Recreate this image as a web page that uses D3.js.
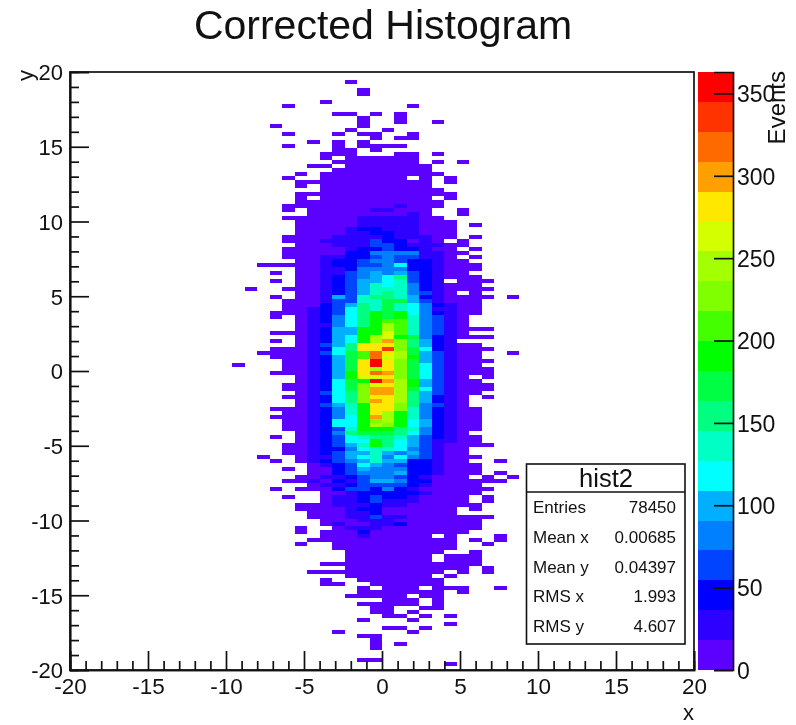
<!DOCTYPE html>
<html>
<head>
<meta charset="utf-8">
<style>
  html, body { margin: 0; padding: 0; background: #fff; }
  svg { filter: blur(0.45px); }
  text { font-family: "Liberation Sans", sans-serif; fill: #111; }
</style>
<script src="https://cdn.jsdelivr.net/npm/d3@7"></script>
</head>
<body>
<div class="container"></div>
<script>
const w = 796;
const h = 725;
let svg = null;

const xBins = 50;
const yBins = 150;
const maxCount = 363;

const xMajor = [-20, -15, -10, -5, 0, 5, 10, 15, 20];
const yMajor = [-20, -15, -10, -5, 0, 5, 10, 15, 20];
const zMajor = [0, 50, 100, 150, 200, 250, 300, 350];

const palette = [
  '#5c00ff', '#2e00ff', '#0000ff', '#0044ff', '#0080ff',
  '#00b0ff', '#00ffff', '#00ffc4', '#00ff80', '#00ff44',
  '#00ff00', '#44ff00', '#80ff00', '#a4ff00', '#d4ff00',
  '#ffe800', '#ffa000', '#ff6a00', '#ff3300', '#ff0000',
];

const statNames = ['Entries', 'Mean x', 'Mean y', 'RMS x', 'RMS y'];
const statValues = ['78450', '0.00685', '0.04397', '1.993', '4.607'];

// each entry: y bin counted from the top, first x bin, then one base-20 colour
// band per x bin ('.' = empty bin)
const topRows = [
  [2, 22, '0'], [4, 23, '0'], [5, 23, '0'], [7, 20, '0'], [8, 17, '0.........0'],
  [10, 21, '00.0.0'], [11, 23, '0..0'], [12, 23, '0..0..0'], [13, 16, '0......0'],
  [14, 22, '0..0'], [15, 17, '0...0.00..0'], [16, 24, '0.00'], [17, 19, '0.0.0'],
  [18, 17, '0...0.0000'], [19, 21, '00.0'], [20, 20, '000...00.0'],
  [21, 20, '0.000000'], [22, 21, '0000000.0.0'], [23, 19, '00.0000000'],
  [24, 21, '00000000'], [25, 18, '0.0000000000'], [26, 17, '0..0000000.0.0'],
  [27, 18, '00000000000.0'], [28, 18, '0.000000000'], [29, 20, '0000000000'],
  [30, 18, '0000000000000'], [31, 18, '0.000000000.0'], [32, 18, '000000000000'],
  [33, 17, '0000000001000'], [34, 17, '0.0000011000..0'], [35, 19, '0000000010..0'],
  [36, 17, '0000001111100'],
];

const upperRows = [
  [37, 18, '0000011111000'], [38, 18, '0000011111000.0'], [39, 18, '0000122111000'],
  [40, 18, '0000112211000'], [41, 17, '00001111211100.0'], [42, 17, '0001111322010.0'],
  [43, 18, '00011133211100'], [44, 17, '00000122322100.0'], [45, 17, '000002244441100'],
  [46, 17, '00011223433110.0'], [47, 18, '00122344322100'], [48, 15, '000001223346221000'],
  [49, 18, '001124444221000'], [50, 16, '0.00113454532100'], [51, 18, '001234568321000'],
  [52, 16, '0.001235567321.000'], [53, 18, '001235767421000'], [54, 14, '0..00012357774210000'],
  [55, 18, '0012357874310.0'], [56, 16, '0.0015378875210000.0'], [57, 17, '0001337799531000'],
];

const coreRows = [
  [58, 17, '0002358797642100'], [59, 17, '0012368797641100'], [60, 16, '00012368a9a642100'],
  [61, 16, '0.012468a9a74310'], [62, 18, '012468abb74310'], [63, 18, '011468adb74310'],
  [64, 18, '01255aadb7431000'], [65, 16, '0001255aaeb74310'], [66, 18, '01256adea9421000'],
  [67, 16, '0.01256adgc8521'], [68, 18, '01358fffc852100'], [69, 16, '0001268ffic9621000'],
  [70, 15, '00001369bhfd953100..0'], [71, 16, '0001259bheda53100'], [72, 17, '001259fjfc9531000'],
  [73, 13, '0...001259fjfc963100'], [74, 17, '001259fdfc9631000'], [75, 16, '000125afhgc9631000'],
  [76, 18, '0125aeefc96310.0'], [77, 18, '01269ajgda53100'], [78, 17, '001269cefda531000'],
  [79, 17, '001269cggd9631000'], [80, 18, '01368cggd853100'], [81, 17, '001268cffd85210.0'],
  [82, 18, '01268cgfd85210'], [83, 18, '01357affc84310'], [84, 16, '0001247affc742100'],
  [85, 17, '001247afda742100'], [86, 16, '0001246agda742100'], [87, 17, '001266acda652100'],
  [88, 17, '001266adca652100'], [89, 17, '001237aaa8742100'],
];

const lowerRows = [
  [90, 18, '01248999864210'], [91, 16, '0.012367887532100'], [92, 18, '012366a86531100'],
  [93, 17, '0012357a865310000'], [94, 17, '001224677643100'], [95, 17, '001235575453100'],
  [96, 15, '0..011356746431000'], [97, 16, '0.01234575522100..0'], [98, 19, '01236543221000'],
  [99, 17, '0.00235444221000'], [100, 19, '00234445221000.0'], [101, 18, '00112344321000.0.0'],
  [102, 17, '001021355422000000'], [103, 19, '01123333210000'], [104, 16, '0.0002332421000000'],
  [105, 20, '0012222210000'], [106, 17, '0..011232210000.0'], [107, 20, '011231110000.0'],
  [108, 18, '000111211000000'], [109, 18, '0000122000000.0'], [110, 19, '000112000000'],
  [111, 19, '000113110000000'], [112, 20, '0001110000000'], [113, 20, '0100112000000'],
];

const bottomRows = [
  [114, 18, '0..011100000000'], [115, 18, '0.000200000000'], [116, 20, '000100000.0...0'],
  [117, 19, '000000000000.0.0'], [118, 18, '0..0000000000..0'], [119, 21, '0000000000'],
  [120, 22, '00000000..0'], [121, 22, '0000000.000'], [122, 22, '0000000.000'],
  [123, 20, '0000000000000'], [124, 22, '0000000000.0'], [125, 19, '00000000000.0.0'],
  [126, 22, '0000000.0'], [127, 20, '0..0000000'], [128, 20, '00..000000'],
  [129, 23, '0.000.000..0'], [130, 23, '0000000.0'], [131, 22, '00000.00'],
  [132, 25, '000.0'], [133, 23, '00000.0'], [134, 24, '00..00'], [135, 24, '00.0'],
  [136, 25, '00.0.0'], [137, 23, '0...0'], [138, 30, '0'], [139, 25, '00.0'],
  [140, 21, '0.....0'], [141, 23, '00'], [142, 24, '0'], [143, 24, '0.0'],
  [144, 24, '0'], [147, 23, '00'], [148, 30, '0'],
];

const cellRows = topRows.concat(upperRows, coreRows, lowerRows, bottomRows);

const xPos = d3.scaleLinear().domain([-20, 20]).range([70, 694]);
const yPos = d3.scaleLinear().domain([-20, 20]).range([670, 72]);
const zPos = d3.scaleLinear().domain([0, maxCount]).range([670, 72]);
const xBand = d3.scaleBand().domain(d3.range(xBins)).range([70, 694]);
const yBand = d3.scaleBand().domain(d3.range(yBins)).range([72, 670]);
const bandColor = d3.scaleOrdinal().domain(d3.range(palette.length)).range(palette);

window.onload = () => {
  setSvg();
  drawCells();
  drawColorBar();
  drawFrame();
  drawAxes();
  drawStats();
  drawTitles();
};

function setSvg() {
  svg = d3.select('.container').append('svg')
    .attr('width', w)
    .attr('height', h)
    .style('display', 'block');
}

function expandRows() {
  const cells = [];
  cellRows.forEach(([row, col, bands]) => {
    bands.split('').forEach((ch, i) => {
      if (ch !== '.') cells.push({ row, col: col + i, band: parseInt(ch, 20) });
    });
  });
  return cells;
}

function drawCells() {
  svg.append('g').selectAll('rect').data(expandRows()).enter().append('rect')
    .attr('x', (d) => xBand(d.col))
    .attr('y', (d) => yBand(d.row))
    .attr('width', xBand.bandwidth())
    .attr('height', yBand.bandwidth())
    .attr('fill', (d) => bandColor(d.band))
    .attr('shape-rendering', 'crispEdges');
}

function drawColorBar() {
  const step = maxCount / palette.length;
  svg.append('g').selectAll('rect').data(palette).enter().append('rect')
    .attr('x', 698)
    .attr('y', (d, i) => zPos((i + 1) * step))
    .attr('width', 35)
    .attr('height', zPos(0) - zPos(step))
    .attr('fill', (d) => d)
    .attr('shape-rendering', 'crispEdges');

  const zAxis = d3.axisRight(zPos).tickValues(zMajor).tickSize(-19).tickPadding(4);
  const g = svg.append('g').attr('transform', 'translate(733,0)').call(zAxis);
  styleAxis(g);
  g.selectAll('text').attr('font-size', 23).attr('dy', '0.36em');
}

function drawFrame() {
  svg.append('rect')
    .attr('x', 70)
    .attr('y', 72)
    .attr('width', 624)
    .attr('height', 598)
    .attr('fill', 'none')
    .attr('stroke', '#111')
    .attr('stroke-width', 1.7);
}

function styleAxis(g) {
  g.selectAll('path').attr('stroke', '#111').attr('stroke-width', 1.7);
  g.selectAll('line').attr('stroke', '#111').attr('stroke-width', 1.7);
  g.selectAll('text').attr('fill', '#111').attr('font-family', '"Liberation Sans", sans-serif');
}

function drawAxes() {
  const minor = d3.range(-20, 21).filter((v) => v % 5 !== 0);
  // plain hyphen like the original labels, not d3's default minus sign
  const label = (d) => String(d);

  const xMinorAxis = d3.axisBottom(xPos).tickValues(minor).tickSize(-9).tickFormat('');
  styleAxis(svg.append('g').attr('transform', 'translate(0,670)').call(xMinorAxis));
  const xAxis = d3.axisBottom(xPos).tickValues(xMajor).tickSize(-19).tickPadding(8).tickFormat(label);
  const gx = svg.append('g').attr('transform', 'translate(0,670)').call(xAxis);
  styleAxis(gx);
  gx.selectAll('text').attr('font-size', 22.5).attr('dy', '0.71em');

  const yMinorAxis = d3.axisLeft(yPos).tickValues(minor).tickSize(-9).tickFormat('');
  styleAxis(svg.append('g').attr('transform', 'translate(70,0)').call(yMinorAxis));
  const yAxis = d3.axisLeft(yPos).tickValues(yMajor).tickSize(-19).tickPadding(7).tickFormat(label);
  const gy = svg.append('g').attr('transform', 'translate(70,0)').call(yAxis);
  styleAxis(gy);
  gy.selectAll('text').attr('font-size', 22).attr('dy', '0.36em');
}

function drawStats() {
  const box = svg.append('g');
  box.append('rect')
    .attr('x', 526.5)
    .attr('y', 464)
    .attr('width', 158.5)
    .attr('height', 180)
    .attr('fill', '#fff')
    .attr('stroke', '#111')
    .attr('stroke-width', 1.6);
  box.append('line')
    .attr('x1', 526.5)
    .attr('x2', 685)
    .attr('y1', 492)
    .attr('y2', 492)
    .attr('stroke', '#111')
    .attr('stroke-width', 1.6);
  box.append('text')
    .attr('x', 606)
    .attr('y', 487)
    .attr('text-anchor', 'middle')
    .attr('font-size', 25.5)
    .text('hist2');

  const rowY = d3.scalePoint().domain(statNames).range([513, 632]);
  box.selectAll('.stat-name').data(statNames).enter().append('text')
    .attr('class', 'stat-name')
    .attr('x', 533)
    .attr('y', (d) => rowY(d))
    .attr('font-size', 17)
    .text((d) => d);
  box.selectAll('.stat-value').data(statValues).enter().append('text')
    .attr('class', 'stat-value')
    .attr('x', 676)
    .attr('y', (d, i) => rowY(statNames[i]))
    .attr('text-anchor', 'end')
    .attr('font-size', 17)
    .text((d) => d);
}

function drawTitles() {
  svg.append('text')
    .attr('x', 383)
    .attr('y', 39)
    .attr('text-anchor', 'middle')
    .attr('font-size', 41)
    .text('Corrected Histogram');

  svg.append('text')
    .attr('x', 694)
    .attr('y', 720)
    .attr('text-anchor', 'end')
    .attr('font-size', 22)
    .text('x');

  svg.append('text')
    .attr('transform', 'translate(33,70) rotate(-90)')
    .attr('text-anchor', 'end')
    .attr('font-size', 22)
    .text('y');

  svg.append('text')
    .attr('transform', 'translate(785,71) rotate(-90)')
    .attr('text-anchor', 'end')
    .attr('font-size', 24)
    .text('Events');
}
</script>
</body>
</html>
